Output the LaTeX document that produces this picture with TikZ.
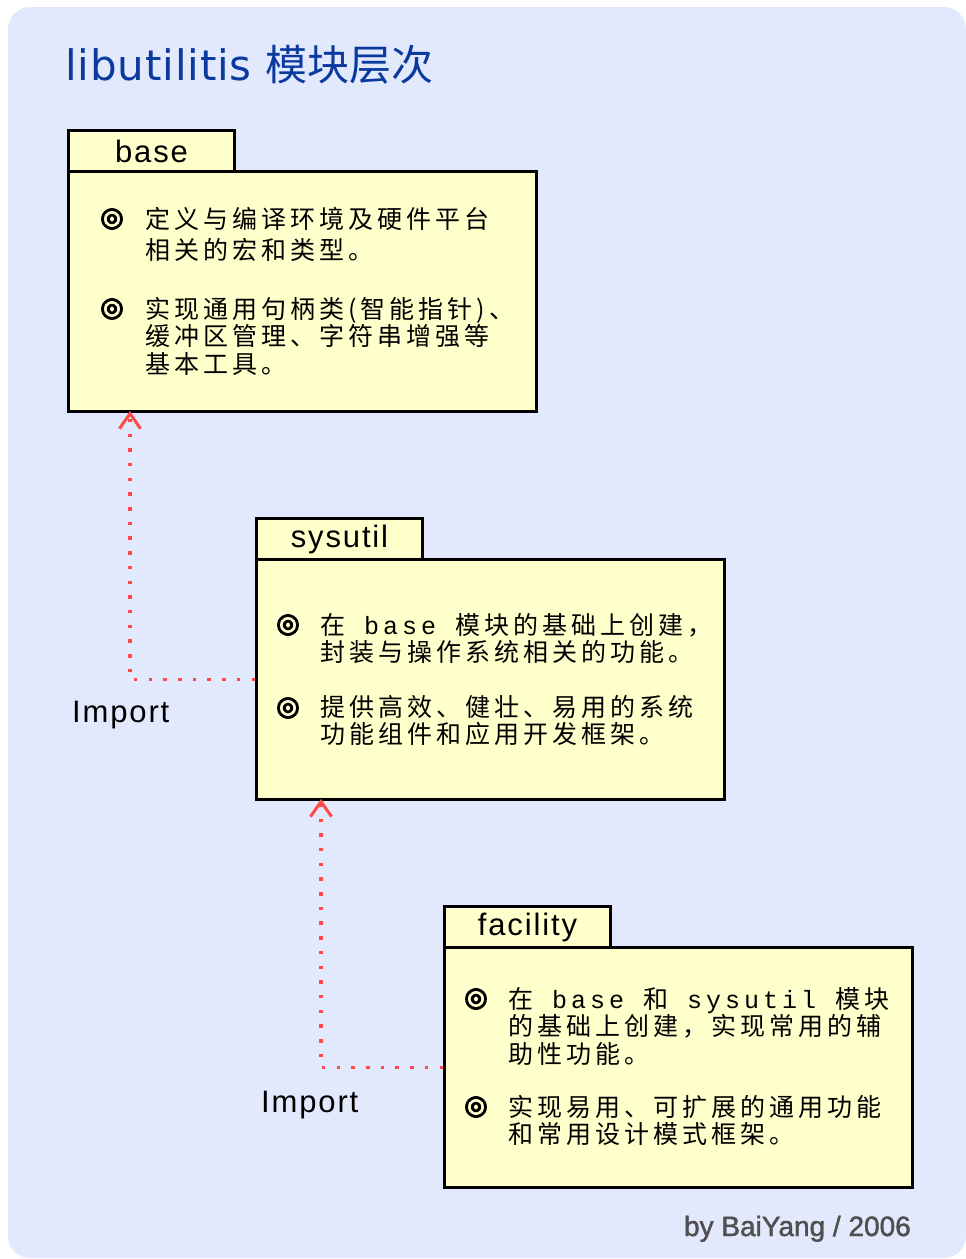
\documentclass[tikz,border=0pt]{standalone}
\usepackage{fontspec}
\usetikzlibrary{arrows.meta,calc}

\newfontfamily\cjkbody[LetterSpace=16]{Noto Sans CJK SC}
\newfontfamily\latinmono[LetterSpace=16]{Liberation Mono}
\newfontfamily\cjkplain{Noto Sans CJK SC}
\newfontfamily\titlefont[LetterSpace=2]{DejaVu Sans}
\newfontfamily\labelfont[LetterSpace=6]{Liberation Sans}
\newfontfamily\signfont[FakeBold=1.5]{Liberation Sans}
\newfontfamily\bulletfont[FakeBold=4]{DejaVu Sans}

\definecolor{bgblue}{HTML}{E3E9FD}
\definecolor{pkgyellow}{HTML}{FFFFCC}
\definecolor{titleblue}{HTML}{0B3A9F}
\definecolor{importred}{HTML}{FF4A4A}
\definecolor{signgray}{HTML}{4F4F4F}

\newcommand{\lat}[1]{{\latinmono #1}}

\tikzset{
  pkgtab/.style={draw=black, line width=3pt, fill=pkgyellow, anchor=north west,
    minimum width=166pt, minimum height=41pt, inner sep=0pt,
    font=\labelfont\fontsize{31}{31}\selectfont},
  pkgbody/.style={draw=black, line width=3pt, fill=pkgyellow, anchor=north west,
    minimum width=468pt, minimum height=240pt, inner sep=0pt},
  bullet/.style={inner sep=0pt, font=\bulletfont\fontsize{27}{27}\selectfont},
  bodytext/.style={inner sep=0pt, anchor=north west, align=left,
    font=\cjkbody\fontsize{25}{27.5}\selectfont},
  importlabel/.style={inner sep=0pt, anchor=base west,
    font=\labelfont\fontsize{31}{31}\selectfont},
  importline/.style={draw=importred, line width=3.5pt,
    dash pattern=on 3.5pt off 11.2pt,
    -{Straight Barb[length=15pt, width=21pt, line width=3pt]}},
}

\begin{document}
\begin{tikzpicture}[x=1pt, y=-1pt]
  \useasboundingbox (0,0) rectangle (966,1259);

  % backdrop
  \fill[bgblue, rounded corners=22pt] (8,7) rectangle (966,1258);

  % heading
  \node[anchor=base west, inner sep=0pt, text=titleblue,
        font=\fontsize{42}{42}\selectfont] (title) at (65,80)
        {\titlefont libutilitis \cjkplain 模块层次};

  % package: base
  \node[pkgtab]  (basetab)  at (67,129) {base};
  \node[pkgbody] (basebody) at (67,170) {};
  \node[bullet] (baseb1) at (112,219) {◎};
  \node[bodytext, font=\cjkbody\fontsize{25}{31}\selectfont] (baset1) at (145,207)
    {定义与编译环境及硬件平台\\相关的宏和类型。};
  \node[bullet] (baseb2) at (112,309) {◎};
  \node[bodytext] (baset2) at (145,297)
    {实现通用句柄类(智能指针)、\\缓冲区管理、字符串增强等\\基本工具。};

  % package: sysutil
  \node[pkgtab]  (systab)  at (255,517) {sysutil};
  \node[pkgbody] (sysbody) at (255,558) {};
  \node[bullet] (sysb1) at (288,625) {◎};
  \node[bodytext] (syst1) at (320,613)
    {在\lat{ base }模块的基础上创建，\\封装与操作系统相关的功能。};
  \node[bullet] (sysb2) at (288,708) {◎};
  \node[bodytext] (syst2) at (320,695)
    {提供高效、健壮、易用的系统\\功能组件和应用开发框架。};

  % package: facility
  \node[pkgtab]  (factab)  at (443,905) {facility};
  \node[pkgbody] (facbody) at (443,946) {};
  \node[bullet] (facb1) at (476,999) {◎};
  \node[bodytext] (fact1) at (508,987)
    {在\lat{ base }和\lat{ sysutil }模块\\的基础上创建，实现常用的辅\\助性功能。};
  \node[bullet] (facb2) at (476,1107) {◎};
  \node[bodytext] (fact2) at (508,1095)
    {实现易用、可扩展的通用功能\\和常用设计模式框架。};

  % import dependencies
  \coordinate (baseport) at ($(basebody.south west)+(63,-2)$);
  \coordinate (sysport)  at ($(sysbody.south west)+(66,-2)$);
  \draw[importline] (sysbody.west) -| (baseport);
  \draw[importline] (facbody.west) -| (sysport);
  \node[importlabel] (imp1) at (72,722) {Import};
  \node[importlabel] (imp2) at (261,1112) {Import};

  % signature
  \node[anchor=base east, inner sep=0pt, text=signgray,
        font=\signfont\fontsize{28}{28}\selectfont] (sign) at (911,1236)
        {by BaiYang / 2006};
\end{tikzpicture}
\end{document}
